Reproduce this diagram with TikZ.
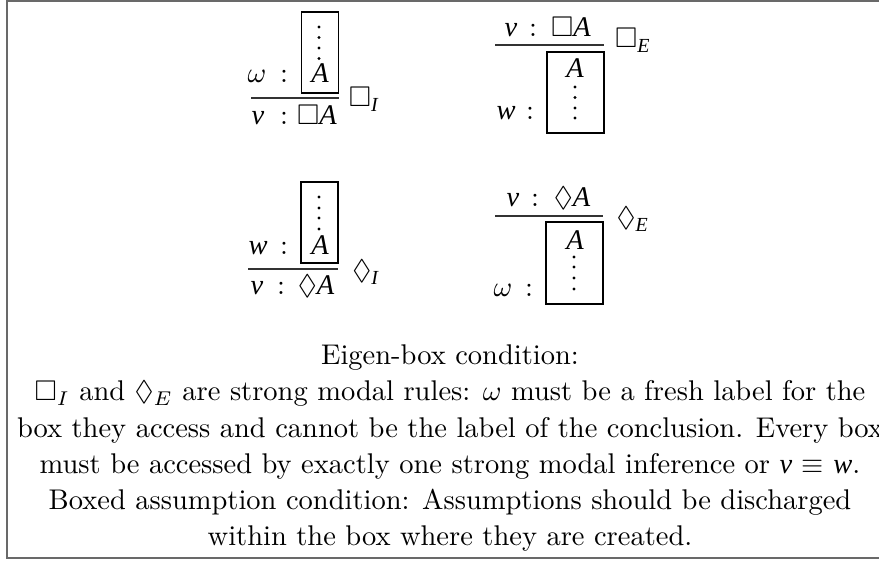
\documentclass[tikz,border=0pt]{standalone}
\usepackage{amsmath, amssymb}
\usepackage{fontspec}
\newfontfamily\labfont{Liberation Serif}
\usetikzlibrary{positioning}
\definecolor{FrameGray}{RGB}{105,105,105}
\newcommand{\lv}{{\labfont\itshape v}}
\newcommand{\lw}{{\labfont\itshape w}}
\newcommand{\fA}{{\labfont\itshape A}}
\newcommand{\sub}[1]{\mbox{\scriptsize\labfont\itshape #1}}

\begin{document}
\begin{tikzpicture}[x=0.351pt, y=-0.351pt]
  \tikzset{
    lbl/.style={anchor=base, inner sep=0pt, font=\fontsize{10}{12}\selectfont},
    sbox/.style={draw, inner sep=0pt, line width=0.4pt},
    infline/.style={line width=0.45pt, black!80}
  }
  \useasboundingbox (0,0) rectangle (879,561);
  \clip (0,0) rectangle (879,561);
  \draw[FrameGray, line width=0.6pt] (893,1) -- (7,1) -- (7,558) -- (893,558);
  % box introduction
  \node[lbl] (bi-w) at (257,83) {$\omega$};
  \node[lbl] (bi-c1) at (284,83) {:};
  \node[sbox, minimum width=12.8pt, minimum height=28.4pt] (bi-box) at (320,52.5) {};
  \node[lbl] (bi-A) at (320,83) {\fA};
  \foreach \d in {27,37.5,48,58.5}
    \fill (319,\d) circle (0.6pt);
  \coordinate (bi-l) at (251,98);
  \coordinate (bi-r) at (339,98);
  \draw[infline] (bi-l) -- (bi-r);
  \node[lbl] (bi-v) at (258,125) {\lv};
  \node[lbl] (bi-c2) at (284,125) {:};
  \node[lbl] (bi-con) at (317,125) {$\Box$\fA};
  \node[lbl] (bi-name) at (364,107) {$\Box_{\sub{I}}$};
  % box elimination
  \node[lbl] (be-v) at (511,37) {\lv};
  \node[lbl] (be-c1) at (533,37) {:};
  \node[lbl] (be-prem) at (571,37) {$\Box$\fA};
  \coordinate (be-l) at (495,45);
  \coordinate (be-r) at (604,45);
  \draw[infline] (be-l) -- (be-r);
  \node[sbox, minimum width=20pt, minimum height=28.4pt] (be-box) at (575.5,92.5) {};
  \node[lbl] (be-A) at (575,78) {\fA};
  \foreach \d in {87,97.5,108,118}
    \fill (575,\d) circle (0.6pt);
  \node[lbl] (be-w) at (506,120) {\lw};
  \node[lbl] (be-c2) at (530,120) {:};
  \node[lbl] (be-name) at (633,48) {$\Box_{\sub{E}}$};
  % diamond introduction
  \node[sbox, minimum width=13pt, minimum height=28.4pt] (di-box) at (319.5,222.5) {};
  \foreach \d in {197,208,218,229}
    \fill (319,\d) circle (0.6pt);
  \node[lbl] (di-A) at (320,255) {\fA};
  \node[lbl] (di-w) at (258,255) {\lw};
  \node[lbl] (di-c1) at (284,255) {:};
  \coordinate (di-l) at (248,269);
  \coordinate (di-r) at (338,269);
  \draw[infline] (di-l) -- (di-r);
  \node[lbl] (di-v) at (257,295) {\lv};
  \node[lbl] (di-c2) at (281,295) {:};
  \node[lbl] (di-con) at (316,295) {$\Diamond$\fA};
  \node[lbl] (di-name) at (366,280) {$\Diamond_{\sub{I}}$};
  % diamond elimination
  \node[lbl] (de-v) at (513,207) {\lv};
  \node[lbl] (de-c1) at (535,207) {:};
  \node[lbl] (de-prem) at (572,207) {$\Diamond$\fA};
  \coordinate (de-l) at (495,216);
  \coordinate (de-r) at (603,216);
  \draw[infline] (de-l) -- (de-r);
  \node[sbox, minimum width=20pt, minimum height=28.8pt] (de-box) at (574.5,263) {};
  \node[lbl] (de-A) at (575,250) {\fA};
  \foreach \d in {257,267,278,289}
    \fill (574,\d) circle (0.6pt);
  \node[lbl] (de-w) at (503,297) {$\omega$};
  \node[lbl] (de-c2) at (529,297) {:};
  \node[lbl] (de-name) at (633,227) {$\Diamond_{\sub{E}}$};
  % conditions
  \foreach \i/\y/\t in {1/365/{Eigen-box condition:},
      2/401/{$\Box_I$ and $\Diamond_E$ are strong modal rules: $\omega$ must be a fresh label for the},
      3/437/{box they access and cannot be the label of the conclusion. Every box},
      4/473/{must be accessed by exactly one strong modal inference or \lv{} $\equiv$ \lw.},
      5/509/{Boxed assumption condition: Assumptions should be discharged},
      6/545/{within the box where they are created.}}
    \node[lbl] (cond-\i) at (450,\y) {\t};
\end{tikzpicture}
\end{document}
